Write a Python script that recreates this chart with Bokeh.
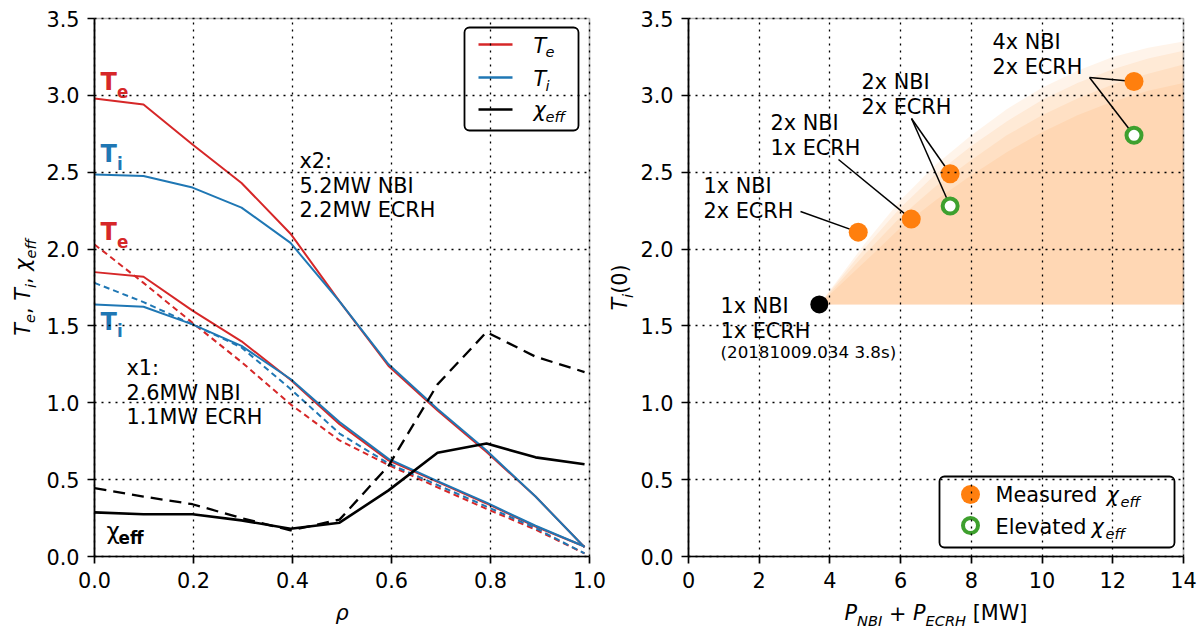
import math
from bokeh.plotting import figure
from bokeh.layouts import row
from bokeh.models import Range1d, FixedTicker, PrintfTickFormatter, BoxAnnotation
from bokeh.core.properties import value
from bokeh.embed import file_html
from bokeh.resources import INLINE

# ---------------- data ----------------
# left panel: radial profiles
rho = [0.0, 0.099, 0.198, 0.297, 0.396, 0.495, 0.594, 0.693, 0.792, 0.891, 0.99]
te_x2 = [2.98, 2.94, 2.68, 2.43, 2.10, 1.66, 1.24, 0.95, 0.68, 0.39, 0.06]
ti_x2 = [2.485, 2.475, 2.40, 2.27, 2.04, 1.66, 1.25, 0.96, 0.69, 0.39, 0.06]
te_x1 = [1.85, 1.82, 1.60, 1.40, 1.15, 0.86, 0.625, 0.485, 0.345, 0.195, 0.065]
ti_x1 = [1.64, 1.625, 1.51, 1.37, 1.155, 0.875, 0.635, 0.49, 0.35, 0.20, 0.065]
te_x1_model = [2.03, 1.78, 1.52, 1.265, 0.99, 0.755, 0.595, 0.45, 0.31, 0.175, 0.02]
ti_x1_model = [1.78, 1.655, 1.51, 1.36, 1.09, 0.80, 0.605, 0.465, 0.325, 0.185, 0.02]
chi_eff = [0.287, 0.275, 0.275, 0.235, 0.18, 0.22, 0.43, 0.675, 0.735, 0.645, 0.60]
chi_eff_model = [0.445, 0.39, 0.34, 0.25, 0.17, 0.24, 0.59, 1.12, 1.46, 1.30, 1.20]

# right panel: central ion temperature vs heating power
p_ref = [3.7]
ti_ref = [1.64]
p_meas = [4.8, 6.3, 7.4, 12.6]
ti_meas = [2.11, 2.195, 2.49, 3.09]
p_elev = [7.4, 12.6]
ti_elev = [2.28, 2.74]
scenario_labels = ["1x NBI\n2x ECRH", "2x NBI\n1x ECRH", "2x NBI\n2x ECRH", "4x NBI\n2x ECRH"]
ref_label = "1x NBI\n1x ECRH"
ref_shot = "(20181009.034 3.8s)"

# shaded prediction band (upper edges of the layered fill)
fill_p = [3.7, 5.0, 6.0, 7.0, 8.0, 9.0, 10.0, 11.0, 12.0, 13.0, 14.0]
band_outer = [1.64, 2.04, 2.32, 2.55, 2.74, 2.91, 3.05, 3.16, 3.25, 3.31, 3.35]
band_2 = [1.64, 2.01, 2.27, 2.49, 2.67, 2.83, 2.97, 3.08, 3.17, 3.24, 3.29]
band_3 = [1.64, 1.97, 2.21, 2.41, 2.58, 2.74, 2.87, 2.98, 3.07, 3.14, 3.20]
band_inner = [1.64, 1.92, 2.14, 2.32, 2.48, 2.63, 2.76, 2.87, 2.96, 3.03, 3.08]

rho_ticks = [0.0, 0.2, 0.4, 0.6, 0.8, 1.0]
p_ticks = [0, 2, 4, 6, 8, 10, 12, 14]
t_ticks = [0.0, 0.5, 1.0, 1.5, 2.0, 2.5, 3.0, 3.5]

# ---------------- styling / layout ----------------
FONT = "DejaVu Sans"
FS = 20.8
FS_SUB = 14.6
RED, BLUE, ORANGE, GREEN = "#d62728", "#1f77b4", "#ff7f0e", "#3ea02e"
BASE_SHIFT = 0.34   # em correction so that (px, py) is the alphabetic baseline

W_TOT, H_TOT = 1203, 631
TOP, BOT = 18, 556
L_X0, L_X1 = 94, 589
R_X0, R_X1 = 688, 1183
LEFT_W = 606
RIGHT_W = W_TOT - LEFT_W


def conv(x_lo_px, x_hi_px, xmin, xmax):
    def fx(px):
        return xmin + (px - x_lo_px) / (x_hi_px - x_lo_px) * (xmax - xmin)

    def fy(py):
        return (BOT - py) / (BOT - TOP) * 3.5
    return fx, fy


LX, LY = conv(L_X0, L_X1, 0.0, 1.0)
RX, RY = conv(R_X0, R_X1, 0.0, 14.0)

EM = {'T': 0.611, 'e': 0.615, 'i': 0.278, ',': 0.318, ' ': 0.318, 'χ': 0.592, 'f': 0.352,
      '(': 0.390, '0': 0.636, ')': 0.390, 'P': 0.603, 'N': 0.748, 'B': 0.686, 'I': 0.295,
      '+': 0.838, 'E': 0.632, 'C': 0.698, 'R': 0.695, 'H': 0.752, '[': 0.390, 'M': 0.863,
      'W': 0.989, ']': 0.390, 'ρ': 0.635}


def em_width(s):
    return sum(EM.get(c, 0.6) for c in s)


def make_fig(fx, fy, px0, width, xmax, xticks, xfmt):
    p = figure(width=width, height=H_TOT,
               x_range=Range1d(fx(px0), fx(px0 + width)), y_range=Range1d(fy(H_TOT), fy(0)),
               min_border=0, min_border_left=0, min_border_right=0, min_border_top=0,
               min_border_bottom=0, output_backend="svg", toolbar_location=None, tools="")
    p.background_fill_color = "white"
    p.border_fill_color = "white"
    p.outline_line_color = None
    p.xaxis.ticker = FixedTicker(ticks=xticks)
    p.yaxis.ticker = FixedTicker(ticks=t_ticks)
    p.xaxis.formatter = PrintfTickFormatter(format=xfmt)
    p.yaxis.formatter = PrintfTickFormatter(format="%.1f")
    p.xaxis.fixed_location = 0
    p.yaxis.fixed_location = 0
    p.xaxis.bounds = (0, xmax)
    p.yaxis.bounds = (0, 3.5)
    for ax in p.axis:
        ax.axis_line_width = 1.7
        ax.axis_line_color = "black"
        ax.major_tick_line_width = 1.7
        ax.major_tick_line_color = "black"
        ax.major_tick_in = 0
        ax.major_tick_out = 7
        ax.minor_tick_line_color = None
        ax.major_label_text_font = FONT
        ax.major_label_text_font_size = f"{FS}px"
        ax.major_label_text_color = "black"
        ax.major_label_standoff = 8
    grid_style = dict(line_color="black", line_dash="2 5", line_width=1.3)
    ok = True
    try:
        p.xgrid.bounds = (0, xmax)
        p.ygrid.bounds = (0, 3.5)
        p.xgrid.cross_bounds = (0, 3.5)
        p.ygrid.cross_bounds = (0, xmax)
    except Exception:
        ok = False
    for g in p.grid:
        g.level = "glyph"
        if ok:
            g.grid_line_color = "black"
            g.grid_line_dash = "2 5"
            g.grid_line_width = 1.3
        else:
            g.grid_line_color = None
    if not ok:
        p.segment(x0=xticks, x1=xticks, y0=[0] * len(xticks), y1=[3.5] * len(xticks),
                  **grid_style)
        p.segment(x0=[0] * len(t_ticks), x1=[xmax] * len(t_ticks), y0=t_ticks, y1=t_ticks,
                  **grid_style)
    # frame box (spines)
    p.add_layout(BoxAnnotation(left=0, right=xmax, bottom=0, top=3.5, fill_alpha=0,
                               line_color="black", line_width=1.7))
    return p


def gtext(p, fx, fy, px, py, s, size=FS, color="black", style="normal", angle=0.0):
    d = BASE_SHIFT * size
    if angle:
        px, py = px - d, py
    else:
        py = py - d
    p.text(x=[fx(px)], y=[fy(py)], text=[s], text_font=value(FONT),
           text_font_size=f"{size}px", text_color=color, text_font_style=style,
           text_align="left", text_baseline="alphabetic", angle=angle)


def gtext_lines(p, fx, fy, px, py, s, size=FS, step=24.5):
    for i, line in enumerate(s.split("\n")):
        gtext(p, fx, fy, px, py + i * step, line, size)


def math_label(p, fx, fy, pieces, center, base, rotated=False):
    sizes = [FS_SUB if sub else FS for (_, sub, _) in pieces]
    total = sum(em_width(t) * sz for (t, _, _), sz in zip(pieces, sizes))
    pos = center + total / 2 if rotated else center - total / 2
    for (t, sub, style), sz in zip(pieces, sizes):
        lead = len(t) - len(t.lstrip())
        shift = 4.5 if sub else 0.0
        adv0 = em_width(t[:lead]) * sz
        if rotated:
            gtext(p, fx, fy, base + shift, pos - adv0, t.strip(), sz, "black", style,
                  angle=math.pi / 2)
            pos -= em_width(t) * sz
        else:
            gtext(p, fx, fy, pos + adv0, base + shift, t.strip(), sz, "black", style)
            pos += em_width(t) * sz


def legend_box(p, fx, fy, x0, x1, y0, y1):
    kw = dict(left=fx(x0), right=fx(x1), top=fy(y0), bottom=fy(y1), fill_color="white",
              line_color="black", line_width=1.8)
    try:
        p.quad(border_radius=5, **kw)
    except Exception:
        p.quad(**kw)


# ================= left panel =================
p1 = make_fig(LX, LY, 0, LEFT_W, 1.0, rho_ticks, "%.1f")

p1.line(rho, te_x2, line_color=RED, line_width=2)
p1.line(rho, ti_x2, line_color=BLUE, line_width=2)
p1.line(rho, te_x1, line_color=RED, line_width=2)
p1.line(rho, ti_x1, line_color=BLUE, line_width=2)
p1.line(rho, te_x1_model, line_color=RED, line_width=2, line_dash="6 4")
p1.line(rho, ti_x1_model, line_color=BLUE, line_width=2, line_dash="6 4")
p1.line(rho, chi_eff_model, line_color="black", line_width=2.3, line_dash="12 7")
p1.line(rho, chi_eff, line_color="black", line_width=2.6)

# curve labels
for (py, main, sub, col) in [(90, "T", "e", RED), (162, "T", "i", BLUE),
                             (240, "T", "e", RED), (329.5, "T", "i", BLUE)]:
    gtext(p1, LX, LY, 100, py, main, 24, col, "bold")
    gtext(p1, LX, LY, 116.5, py + 7, sub, 16.8, col, "bold")
gtext(p1, LX, LY, 106, 538, "χ", 23, "black", "normal")
gtext(p1, LX, LY, 118, 543, "eff", 16.8, "black", "bold")

gtext_lines(p1, LX, LY, 299, 168, "x2:\n5.2MW NBI\n2.2MW ECRH")
gtext_lines(p1, LX, LY, 126, 375, "x1:\n2.6MW NBI\n1.1MW ECRH")

# legend
legend_box(p1, LX, LY, 464, 578, 27, 130)
for py, col in [(44, RED), (77, BLUE), (109, "black")]:
    p1.line([LX(478), LX(512)], [LY(py), LY(py)], line_color=col, line_width=2.6)
gtext(p1, LX, LY, 533, 52.5, "T", FS, "black", "italic")
gtext(p1, LX, LY, 545, 56.5, "e", FS_SUB, "black", "italic")
gtext(p1, LX, LY, 533, 86, "T", FS, "black", "italic")
gtext(p1, LX, LY, 545, 90, "i", FS_SUB, "black", "italic")
gtext(p1, LX, LY, 533, 116.5, "χ", FS, "black", "italic")
gtext(p1, LX, LY, 545, 121, "eff", FS_SUB, "black", "italic")

# axis labels
math_label(p1, LX, LY, [("ρ", 0, "italic")], (L_X0 + L_X1) / 2, 620)
math_label(p1, LX, LY, [("T", 0, "italic"), ("e", 1, "italic"), (", ", 0, "normal"),
                        ("T", 0, "italic"), ("i", 1, "italic"), (", ", 0, "normal"),
                        ("χ", 0, "italic"), ("eff", 1, "italic")],
           (TOP + BOT) / 2, 30, rotated=True)

# ================= right panel =================
p2 = make_fig(RX, RY, LEFT_W, RIGHT_W, 14.0, p_ticks, "%d")

for band in (band_outer, band_2, band_3, band_inner):
    p2.varea(x=fill_p, y1=[ti_ref[0]] * len(fill_p), y2=band, fill_color=ORANGE,
             fill_alpha=0.085, level="underlay")

# leader lines from the scenario texts to their points
anchors = [(800, 211), (838, 159), (911, 118), (1089, 77)]
p2.segment(x0=[RX(a[0]) for a in anchors], y0=[RY(a[1]) for a in anchors],
           x1=p_meas, y1=ti_meas, line_color="black", line_width=1.5)
anchors_e = [(911, 118), (1089, 77)]
p2.segment(x0=[RX(a[0]) for a in anchors_e], y0=[RY(a[1]) for a in anchors_e],
           x1=p_elev, y1=ti_elev, line_color="black", line_width=1.5)

p2.scatter(p_ref, ti_ref, size=18, fill_color="black", line_color=None)
p2.scatter(p_meas, ti_meas, size=19, fill_color=ORANGE, line_color=None)
p2.scatter(p_elev, ti_elev, size=15, fill_color="white", line_color=GREEN, line_width=4)

text_pos = [(703, 193), (770, 130), (861, 89), (992, 49)]
for lbl, (px, py) in zip(scenario_labels, text_pos):
    gtext_lines(p2, RX, RY, px, py, lbl)
gtext_lines(p2, RX, RY, 720, 313, ref_label)
gtext(p2, RX, RY, 720, 357, ref_shot, 16.7)

# legend
legend_box(p2, RX, RY, 939, 1174, 476, 547)
p2.scatter([RX(970)], [RY(494)], size=19, fill_color=ORANGE, line_color=None)
p2.scatter([RX(970)], [RY(525)], size=15, fill_color="white", line_color=GREEN, line_width=4)
gtext(p2, RX, RY, 995, 502, "Measured", FS)
gtext(p2, RX, RY, 1106, 502, "χ", FS, "black", "italic")
gtext(p2, RX, RY, 1120, 506, "eff", FS_SUB, "black", "italic")
gtext(p2, RX, RY, 995, 534, "Elevated", FS)
gtext(p2, RX, RY, 1091, 534, "χ", FS, "black", "italic")
gtext(p2, RX, RY, 1105, 538, "eff", FS_SUB, "black", "italic")

# axis labels
math_label(p2, RX, RY, [("P", 0, "italic"), ("NBI", 1, "italic"), (" + ", 0, "normal"),
                        ("P", 0, "italic"), ("ECRH", 1, "italic"), (" [MW]", 0, "normal")],
           (R_X0 + R_X1) / 2, 620)
math_label(p2, RX, RY, [("T", 0, "italic"), ("i", 1, "italic"), ("(0)", 0, "normal")],
           (TOP + BOT) / 2, 627, rotated=True)

layout = row(p1, p2)
open("out.html", "w").write(file_html(layout, INLINE))
